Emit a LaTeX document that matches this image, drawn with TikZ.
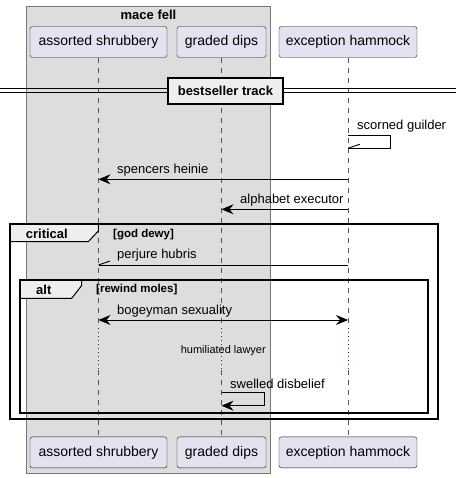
\documentclass[tikz,border=0pt]{standalone}
\usepackage{fontspec}
\setmainfont{Liberation Sans}
\usetikzlibrary{arrows.meta}

\definecolor{partfill}{HTML}{E2E2F0}
\definecolor{partline}{HTML}{181818}
\definecolor{boxfill}{HTML}{DDDDDD}
\definecolor{boxline}{HTML}{777777}
\definecolor{lifegray}{HTML}{555555}
\definecolor{tabfill}{HTML}{EEEEEE}
\definecolor{delayred}{HTML}{A80036}

\tikzset{
  part/.style={draw=partline, fill=partfill, rounded corners=2.5pt, minimum height=31pt,
    inner sep=0pt, font=\fontsize{14}{16}\selectfont},
  lifeline/.style={draw=lifegray, line width=0.7pt, dash pattern=on 5pt off 5pt},
  delayline/.style={draw=delayred, line width=1pt, dash pattern=on 1pt off 3pt},
  msg/.style={line width=0.9pt, -{Stealth[length=12pt,width=10pt,inset=4pt]}},
  msgtext/.style={anchor=base west, inner sep=0pt, font=\fontsize{13}{15}\selectfont},
  boldtext/.style={anchor=base west, inner sep=0pt, font=\bfseries\fontsize{13}{15}\selectfont},
  condtext/.style={anchor=base west, inner sep=0pt, font=\bfseries\fontsize{11.5}{13}\selectfont},
  framebox/.style={draw=black, line width=1.8pt},
  tabbox/.style={draw=black, line width=1pt, fill=tabfill},
}

\begin{document}
\begin{tikzpicture}[x=1pt,y=-1pt]
\useasboundingbox (0,0) rectangle (456,478);

%% Box
\draw[draw=boxline, fill=boxfill, line width=0.8pt] (26.7,6) rectangle (270.3,473);
\node[anchor=base, inner sep=0pt, font=\bfseries\fontsize{13}{15}\selectfont] (macefell) at (148.5,19.5) {mace fell};

%% Participants
\node[part, minimum width=137pt] (ash) at (98.5,42) {assorted shrubbery};
\node[part, minimum width=89pt] (gdp) at (221.5,42) {graded dips};
\node[part, minimum width=138pt] (exh) at (348,42) {exception hammock};
\node[part, minimum width=137pt] (ashB) at (98.5,452.4) {assorted shrubbery};
\node[part, minimum width=89pt] (gdpB) at (221.5,452.4) {graded dips};
\node[part, minimum width=138pt] (exhB) at (348,452.4) {exception hammock};

%% Lifelines
\foreach \p in {ash,gdp,exh} {
  \draw[lifeline] (\p.south) -- (\p |- 0,328);
  \draw[delayline] (\p |- 0,328) -- (\p |- 0,370);
  \draw[lifeline] (\p |- 0,370) -- (\p B.north);
}

%% Divider
\draw[line width=0.9pt] (0,88.3) -- (456,88.3);
\draw[line width=0.9pt] (0,92.3) -- (456,92.3);
\node[draw=black, line width=1.6pt, fill=tabfill, minimum width=115pt, minimum height=26pt,
  inner sep=0pt, font=\bfseries\fontsize{13}{15}\selectfont] (track) at (225.5,91) {bestseller track};

%% Self message on exception hammock
\coordinate (sgA) at (exh |- 0,135);
\coordinate (sgB) at (exh |- 0,148.3);
\draw[line width=0.9pt] (sgA) -- ++(42,0) |- (sgB);
\draw[line width=0.9pt] (sgB) -- ++(11.7,-4);
\node[msgtext] (sgtext) at (357,130) {scorned guilder};

%% Messages
\coordinate (shA) at (exh |- 0,179.3);
\coordinate (shB) at (ash |- 0,179.3);
\draw[msg] (shA) -- (shB);
\node[msgtext] (shtext) at (117,173.5) {spencers heinie};

\coordinate (aeA) at (exh |- 0,209.3);
\coordinate (aeB) at (gdp |- 0,209.3);
\draw[msg] (aeA) -- (aeB);
\node[msgtext] (aetext) at (240,203.5) {alphabet executor};

%% Critical group
\draw[tabbox] (10,224) -- (98.3,224) -- (98.3,231) -- (88.3,241.7) -- (10,241.7) -- cycle;
\draw[framebox] (10,224) rectangle (438,419);
\node[boldtext] (crit) at (25.7,238) {critical};
\node[condtext] (critcond) at (113,237) {[god dewy]};

\coordinate (phA) at (exh |- 0,265);
\coordinate (phB) at (ash |- 0,265);
\draw[line width=0.9pt] (phA) -- (phB);
\draw[line width=0.9pt] (phB) -- ++(11.5,-4);
\node[msgtext] (phtext) at (117,258.5) {perjure hubris};

%% Alt group
\draw[tabbox] (20,280) -- (81.7,280) -- (81.7,285.5) -- (71.7,298.3) -- (20,298.3) -- cycle;
\draw[framebox] (20,280) rectangle (428,412.7);
\node[boldtext] (alt) at (36,294) {alt};
\node[condtext] (altcond) at (96,292.7) {[rewind moles]};

\coordinate (bsA) at (ash |- 0,320);
\coordinate (bsB) at (exh |- 0,320);
\draw[msg, {Stealth[length=12pt,width=10pt,inset=4pt]}-{Stealth[length=12pt,width=10pt,inset=4pt]}] (bsA) -- (bsB);
\node[msgtext] (bstext) at (117,314.5) {bogeyman sexuality};

%% Delay
\node[anchor=base, inner sep=0pt, font=\fontsize{11}{13}\selectfont] (delay) at (223.3,353.5) {humiliated lawyer};

%% Self message on graded dips
\coordinate (sdA) at (gdp |- 0,392);
\coordinate (sdB) at (gdp |- 0,405.7);
\draw[msg] (sdA) -- ++(42.5,0) |- (sdB);
\node[msgtext] (sdtext) at (230,388.3) {swelled disbelief};

\end{tikzpicture}
\end{document}
